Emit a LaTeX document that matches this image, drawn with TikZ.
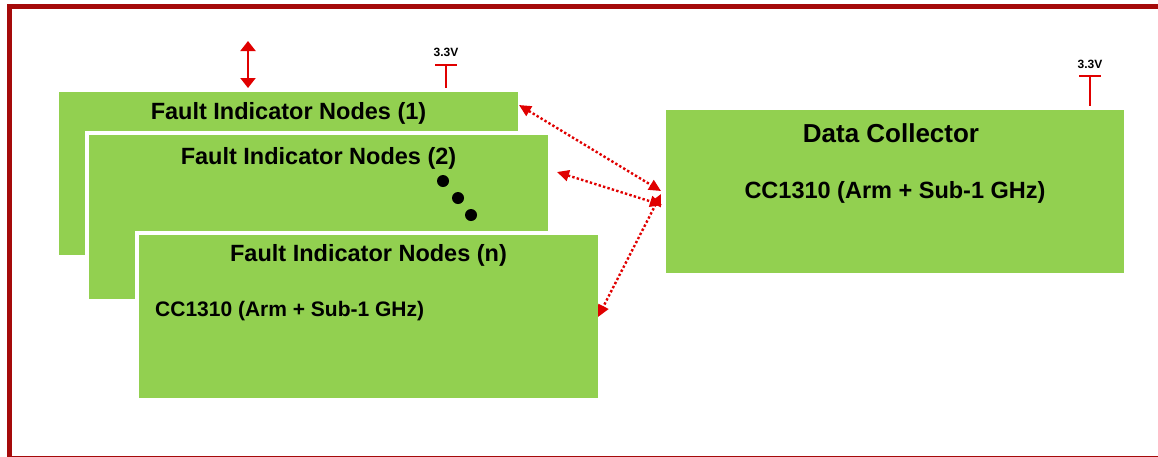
\documentclass[tikz,border=0pt]{standalone}
\usepackage{fontspec}
\setmainfont{Liberation Sans}
\usetikzlibrary{arrows.meta,calc}
\definecolor{boxgreen}{HTML}{92D050}
\definecolor{arrred}{HTML}{E00000}
\definecolor{frame}{HTML}{A50A0A}
\begin{document}
\begin{tikzpicture}[x=1pt,y=-1pt,
  box/.style={fill=boxgreen,draw=white,line width=4pt,anchor=north west,inner sep=0pt},
  title/.style={font=\bfseries\fontsize{23.5}{26}\selectfont,inner sep=0pt},
  sub/.style={font=\bfseries\fontsize{21}{23}\selectfont,inner sep=0pt},
  volt/.style={font=\bfseries\fontsize{12}{13}\selectfont,inner sep=0pt},
  rail/.style={draw=arrred,line width=1.6pt},
  link/.style={draw=arrred,line width=2.4pt,dash pattern=on 2.4pt off 2.2pt,
    {Triangle[length=12pt,width=11pt]}-{Triangle[length=12pt,width=11pt]}}]
\useasboundingbox (0,0) rectangle (1158,456);
\draw[frame,line width=5pt] (9.5,6) rectangle (1170,458);
% boxes
\node[box,minimum width=463pt,minimum height=167pt] (b1) at (55,88) {};
\node[box,minimum width=463pt,minimum height=168pt] (b2) at (85,131) {};
\node[box,minimum width=463pt,minimum height=167pt] (b3) at (135,231) {};
\node[box,minimum width=462pt,minimum height=167pt] (dc) at (662,106) {};
% titles
\node[title] (t1) at ($(b1.north)+(0,25)$) {Fault Indicator Nodes (1)};
\node[title] (t2) at ($(b2.north)+(0,27)$) {Fault Indicator Nodes (2)};
\node[title] (t3) at ($(b3.north)+(0,24)$) {Fault Indicator Nodes (n)};
\node[sub,anchor=west] (c3) at ($(b3.north west)+(20,80)$) {CC1310 (Arm + Sub-1 GHz)};
\node[font=\bfseries\fontsize{26}{28}\selectfont,inner sep=0pt] (dct) at ($(dc.north)+(-4,27)$) {Data Collector};
\node[title] (dcs) at ($(dc.north)+(0,86)$) {CC1310 (Arm + Sub-1 GHz)};
% dots
\fill (443,181) circle (6) (458,198) circle (6) (471,215) circle (6);
% top arrow
\coordinate (ta) at (248,41);
\draw[arrred,line width=2pt,{Triangle[length=10pt,width=15pt]}-{Triangle[length=10pt,width=15pt]}] (ta) -- (ta |- b1.north);
% 3.3V rails
\coordinate (v1) at (446,65);
\draw[rail] (v1) -- (v1 |- b1.north);
\draw[rail] ($(v1)+(-11,0)$) -- ($(v1)+(11,0)$);
\node[volt] (l1) at ($(v1)+(0,-13)$) {3.3V};
\coordinate (v2) at (1090,76);
\draw[rail] (v2) -- (v2 |- dc.north);
\draw[rail] ($(v2)+(-11,0)$) -- ($(v2)+(11,0)$);
\node[volt] (l2) at ($(v2)+(0,-12)$) {3.3V};
% wireless links
\coordinate (a1) at (519,105);
\coordinate (a2) at (557,172);
\coordinate (a3) at (598,317);
\coordinate (d1) at (661,191);
\coordinate (d2) at (662,205);
\coordinate (d3) at (661,194);
\draw[link] (a1) -- (d1);
\draw[link] (a2) -- (d2);
\draw[link] (d3) -- (a3);
\end{tikzpicture}
\end{document}
